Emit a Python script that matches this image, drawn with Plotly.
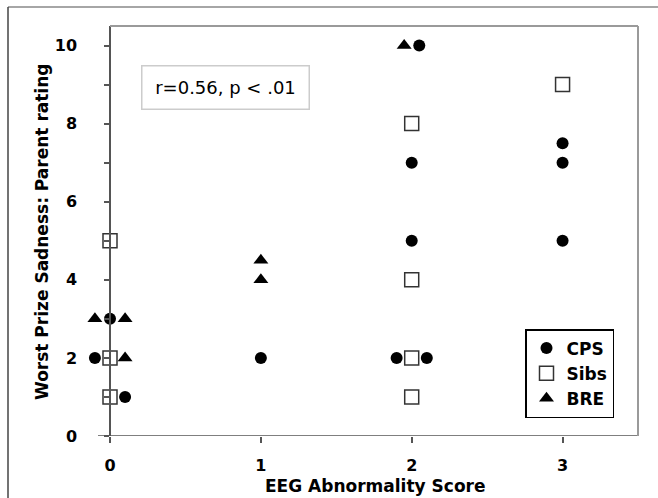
import plotly.graph_objects as go

# ---- data ----
cps_x = [-0.1, 0, 0.1, 1, 1.9, 2, 2, 2.05, 2.1, 3, 3, 3]
cps_y = [2, 3, 1, 2, 2, 5, 7, 10, 2, 5, 7, 7.5]
sibs_x = [0, 0, 0, 2, 2, 2, 2, 3]
sibs_y = [5, 2, 1, 1, 2, 4, 8, 9]
bre_x = [-0.1, 0.1, 0.1, 1, 1, 1.95]
bre_y = [3, 3, 2, 4, 4.5, 10]

x_ticks = [0, 1, 2, 3]
y_ticks = list(range(0, 11))
y_ticklabels = [str(v) if v % 2 == 0 else "" for v in y_ticks]

annotation_text = "r=0.56, p < .01"
x_title = "EEG Abnormality Score"
y_title = "Worst Prize Sadness: Parent rating"

# ---- layout geometry ----
W, H = 658, 498
ML, MR, MT, MB = 72, 20, 26, 62
pw = W - ML - MR
ph = H - MT - MB
XMAX = 3.5
px_per_unit = 528 / XMAX
XMIN = -38 / px_per_unit
YMIN, YMAX = 0, 10.5


def px2paper_x(px):
    return (px - ML) / pw


def px2paper_y(py):
    return (H - MB - py) / ph


bold = "DejaVu Sans"
fig = go.Figure()

fig.add_trace(go.Scatter(
    x=cps_x, y=cps_y, mode="markers", name="CPS",
    marker=dict(symbol="circle", size=12, color="black"),
))
fig.add_trace(go.Scatter(
    x=sibs_x, y=sibs_y, mode="markers", name="Sibs",
    marker=dict(symbol="square", size=14, color="white",
                line=dict(color="#333333", width=1.5)),
))
fig.add_trace(go.Scatter(
    x=bre_x, y=bre_y, mode="markers", name="BRE",
    marker=dict(symbol="triangle-up", size=13, color="black"),
))

fig.update_layout(
    width=W, height=H,
    margin=dict(l=ML, r=MR, t=MT, b=MB, pad=0),
    paper_bgcolor="white", plot_bgcolor="white",
    font=dict(family=bold, size=15, color="black"),
    xaxis=dict(
        range=[XMIN, XMAX], showgrid=False, zeroline=False, showline=False,
        tickmode="array", tickvals=x_ticks, ticktext=[str(v) for v in x_ticks],
        ticks="outside", ticklen=6, tickwidth=1.5, tickcolor="#555555",
        tickfont=dict(family=bold, size=16, weight="bold"),
        ticklabelstandoff=9,
    ),
    yaxis=dict(
        range=[YMIN, YMAX], showgrid=False, zeroline=False,
        anchor="free", position=px2paper_x(110),
        showline=True, linecolor="#555555", linewidth=1.5,
        tickmode="array", tickvals=y_ticks, ticktext=y_ticklabels,
        ticks="outside", ticklen=5, tickwidth=1.5, tickcolor="#555555",
        tickfont=dict(family=bold, size=16, weight="bold"),
        ticklabelstandoff=24,
    ),
    legend=dict(
        x=px2paper_x(614), y=px2paper_y(418), xanchor="right", yanchor="bottom",
        bordercolor="black", borderwidth=1.5, bgcolor="white",
        font=dict(family=bold, size=17, weight="bold"),
        itemwidth=30, tracegroupgap=0,
    ),
    showlegend=True,
)

shapes = []
# x-axis line (extends slightly left of the y axis)
shapes.append(dict(type="line", xref="paper", yref="y",
                   x0=px2paper_x(98), x1=1, y0=0, y1=0,
                   line=dict(color="#555555", width=1.5)))
# plot-area top and right border
shapes.append(dict(type="line", xref="paper", yref="paper",
                   x0=px2paper_x(110), x1=1, y0=1, y1=1,
                   line=dict(color="#9a9a9a", width=2)))
shapes.append(dict(type="line", xref="paper", yref="paper",
                   x0=1, x1=1, y0=0, y1=1,
                   line=dict(color="#9a9a9a", width=2)))
# outer frame (top and left)
shapes.append(dict(type="line", xref="paper", yref="paper",
                   x0=px2paper_x(8), x1=px2paper_x(660), y0=px2paper_y(7), y1=px2paper_y(7),
                   line=dict(color="#888888", width=1.5)))
shapes.append(dict(type="line", xref="paper", yref="paper",
                   x0=px2paper_x(8), x1=px2paper_x(8), y0=px2paper_y(7), y1=px2paper_y(500),
                   line=dict(color="#444444", width=1.5)))
fig.update_layout(shapes=shapes)

fig.add_annotation(
    text=annotation_text, xref="paper", yref="paper",
    x=px2paper_x(225), y=px2paper_y(87), xanchor="center", yanchor="middle",
    showarrow=False, font=dict(family="DejaVu Sans", size=18, color="black"),
    bordercolor="#cccccc", borderwidth=1.5, borderpad=10, bgcolor="white",
    width=146, height=22,
)
fig.add_annotation(
    text=x_title, xref="paper", yref="paper",
    x=px2paper_x(375), y=px2paper_y(486), xanchor="center", yanchor="middle",
    showarrow=False, font=dict(family=bold, size=17, weight="bold"),
)
fig.add_annotation(
    text=y_title, xref="paper", yref="paper", textangle=-90,
    x=px2paper_x(42), y=px2paper_y(232), xanchor="center", yanchor="middle",
    showarrow=False, font=dict(family=bold, size=17, weight="bold"),
)

fig.write_html(
    "out.html",
    config={"displayModeBar": False},
    post_script="document.body.style.margin='0';document.body.style.overflow='hidden';",
)
